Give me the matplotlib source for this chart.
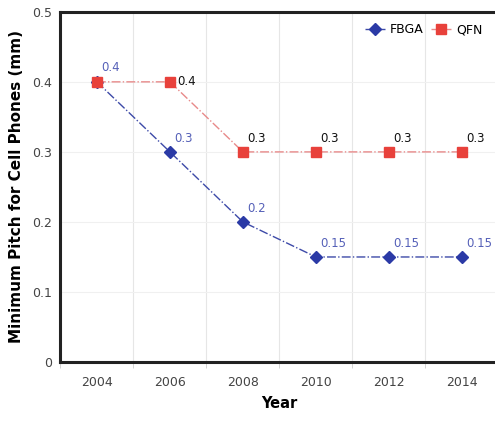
import matplotlib.pyplot as plt
from matplotlib.ticker import FixedLocator

years = ['2004', '2006', '2008', '2010', '2012', '2014']
fbga = [0.4, 0.3, 0.2, 0.15, 0.15, 0.15]
qfn = [0.4, 0.4, 0.3, 0.3, 0.3, 0.3]
fbga_labels = ['0.4', '0.3', '0.2', '0.15', '0.15', '0.15']
qfn_labels = ['', '0.4', '0.3', '0.3', '0.3', '0.3']

x = list(range(len(years)))

fig = plt.figure(figsize=(4.95, 4.21), dpi=100)
ax = fig.add_axes([0.122, 0.140, 0.885, 0.832])

ax.plot(x, fbga, color='#3d4aa8', linestyle='-.', linewidth=1.0,
        marker='D', markersize=6, markerfacecolor='#2b3aa6',
        markeredgecolor='#2b3aa6', label='FBGA', zorder=3)
ax.plot(x, qfn, color='#e88a8a', linestyle='-.', linewidth=1.0,
        marker='s', markersize=7, markerfacecolor='#e8413b',
        markeredgecolor='#e8413b', label='QFN', zorder=3)

# etiquetas de valores
for xi, v, s in zip(x, fbga, fbga_labels):
    ax.annotate(s, xy=(xi, v), xytext=(3, 10), textcoords='offset points',
                color='#5560b8', fontsize=8.5, ha='left', va='center')
for xi, v, s in zip(x, qfn, qfn_labels):
    if not s:
        continue
    off = (5, 0) if xi == 1 else (3, 10)
    ax.annotate(s, xy=(xi, v), xytext=off, textcoords='offset points',
                color='#111111', fontsize=8.5, ha='left', va='center')

ax.set_xlim(-0.5, 5.5)
ax.set_ylim(0, 0.5)
ax.set_xticks(x)
ax.set_xticklabels(years)
ax.xaxis.set_minor_locator(FixedLocator([i + 0.5 for i in range(-1, 6)]))
ax.set_yticks([0, 0.1, 0.2, 0.3, 0.4, 0.5])
ax.set_yticklabels(['0', '0.1', '0.2', '0.3', '0.4', '0.5'])

ax.tick_params(axis='x', which='major', length=0, pad=10,
               labelsize=9, labelcolor='#444444')
ax.tick_params(axis='x', which='minor', length=4, color='#cccccc')
ax.tick_params(axis='y', length=0, pad=6, labelsize=9, labelcolor='#444444')

ax.grid(True, which='minor', axis='x', color='#e6e6e6', linewidth=0.8)
ax.grid(True, which='major', axis='y', color='#f0f0f0', linewidth=0.8)
ax.set_axisbelow(True)

for side in ['top', 'left', 'bottom']:
    ax.spines[side].set_linewidth(2.2)
    ax.spines[side].set_color('#222222')
ax.spines['right'].set_visible(False)

ax.set_xlabel('Year', fontsize=10.5, fontweight='bold', labelpad=5)
ax.set_ylabel('Minimum Pitch for Cell Phones (mm)', fontsize=11,
              fontweight='bold', labelpad=6)

ax.legend(loc='upper right', ncol=2, frameon=False, fontsize=9,
          handlelength=1.6, handletextpad=0.4, columnspacing=0.6,
          bbox_to_anchor=(0.99, 1.0))

plt.savefig('out.png', dpi=100)
plt.close()
